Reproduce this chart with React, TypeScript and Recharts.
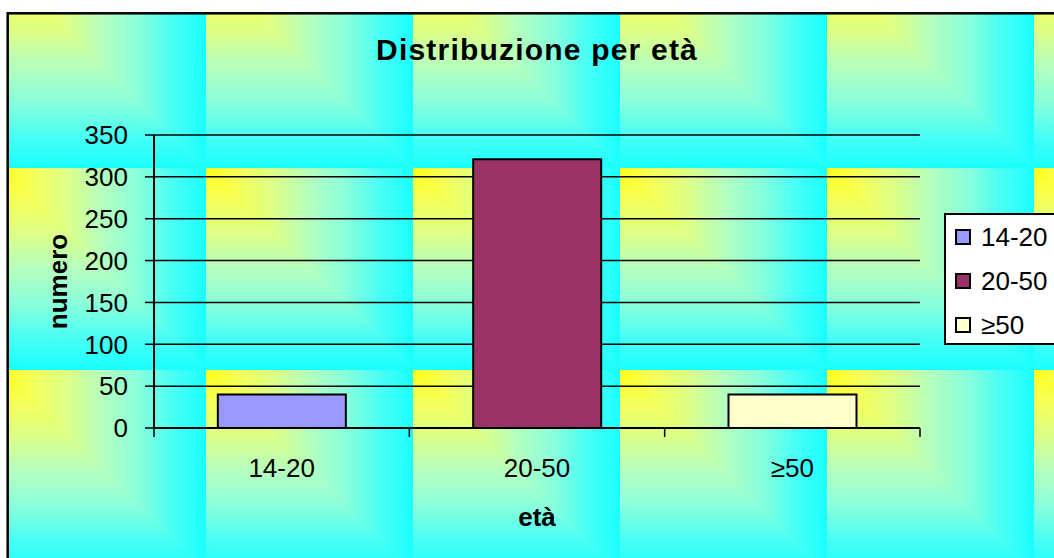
import React from 'react';
import { BarChart, Bar, Cell, XAxis, YAxis, CartesianGrid, Legend, Label } from 'recharts';

const categories = ['14-20', '20-50', '≥50'];
const counts = [40, 321, 40];
const barColors = ['#9999ff', '#993366', '#ffffcc'];
const yTicks = [0, 50, 100, 150, 200, 250, 300, 350];

const data = categories.map((name, i) => ({ name, value: counts[i] }));

const FONT = '"Liberation Sans", Arial, sans-serif';
const W = 1054;
const H = 558;
const margin = { top: 135, right: 134, bottom: 100, left: 94 };
const Y_WIDTH = 60;
const X_HEIGHT = 30;
const TICK = 9;
// width of one category band, used to put the x tick marks on the band edges
const BAND = (W - margin.left - Y_WIDTH - margin.right) / categories.length;

const gradStops = [
  [0, '#ffff1a'],
  [0.15, '#f6ff55'],
  [0.33, '#dcff88'],
  [0.5, '#b4ffbe'],
  [0.68, '#88ffdc'],
  [0.85, '#45fff5'],
  [1, '#1affff'],
];

function XTick(props: any) {
  const { x, y, payload, index } = props;
  const axisY = y - TICK;
  return (
    <g>
      <line x1={x - BAND / 2} x2={x - BAND / 2} y1={axisY} y2={axisY + TICK} stroke="#000" strokeWidth={1.5} />
      {index === categories.length - 1 && (
        <line x1={x + BAND / 2} x2={x + BAND / 2} y1={axisY} y2={axisY + TICK} stroke="#000" strokeWidth={1.5} />
      )}
      <text x={x} y={axisY + 49} textAnchor="middle" fontSize={26} fontFamily={FONT} fill="#000">
        {payload.value}
      </text>
    </g>
  );
}

function LegendBox() {
  return (
    <div
      style={{
        width: 130,
        height: 132,
        boxSizing: 'border-box',
        background: '#fff',
        border: '2px solid #000',
        fontFamily: FONT,
        fontSize: 26,
        color: '#000',
      }}
    >
      {categories.map((c, i) => (
        <div key={c} style={{ display: 'flex', alignItems: 'center', height: 44 }}>
          <span
            style={{
              display: 'inline-block',
              width: 16,
              height: 16,
              boxSizing: 'border-box',
              border: '2px solid #000',
              background: barColors[i],
              marginLeft: 9,
              marginRight: 10,
            }}
          />
          <span>{c}</span>
        </div>
      ))}
    </div>
  );
}

export default function App() {
  return (
    <div style={{ position: 'absolute', left: 0, top: 0, width: W, height: H, overflow: 'hidden', background: '#fff' }}>
      <svg width={W} height={H} style={{ position: 'absolute', left: 0, top: 0 }}>
        <defs>
          <linearGradient id="hg" x1="0" y1="0" x2="1" y2="0">
            {gradStops.map(([o, c]) => (
              <stop key={o} offset={o} stopColor={c as string} />
            ))}
          </linearGradient>
          <linearGradient id="vg" x1="0" y1="0" x2="0" y2="1">
            {gradStops.map(([o, c]) => (
              <stop key={o} offset={o} stopColor={c as string} />
            ))}
          </linearGradient>
          <pattern id="tile" x={-1} y={-34} width={207} height={202} patternUnits="userSpaceOnUse">
            <rect x={0} y={0} width={207} height={202} fill="url(#vg)" />
            <polygon points="0,0 207,0 207,202" fill="url(#hg)" />
          </pattern>
        </defs>
        <rect x={7.7} y={13.3} width={1100} height={600} fill="url(#tile)" stroke="#000" strokeWidth={2.5} />
        <text
          x={537}
          y={60}
          textAnchor="middle"
          fontSize={30}
          fontWeight="bold"
          letterSpacing={1.2}
          fontFamily={FONT}
          fill="#000"
        >
          Distribuzione per età
        </text>
      </svg>
      <div style={{ position: 'absolute', left: 0, top: 0 }}>
        <BarChart width={W} height={H} data={data} margin={margin} barCategoryGap="25%">
          <CartesianGrid vertical={false} stroke="#000" strokeWidth={1.5} />
          <XAxis
            dataKey="name"
            height={X_HEIGHT}
            tickSize={TICK}
            tickMargin={0}
            tickLine={false}
            axisLine={{ stroke: '#000', strokeWidth: 2 }}
            tick={<XTick />}
            interval={0}
          >
            <Label
              value="età"
              position="bottom"
              offset={49.5}
              style={{ fontFamily: FONT, fontSize: 26, fontWeight: 'bold', fill: '#000' }}
            />
          </XAxis>
          <YAxis
            domain={[0, 350]}
            ticks={yTicks}
            interval={0}
            width={Y_WIDTH}
            tickSize={TICK}
            tickMargin={17}
            axisLine={{ stroke: '#000', strokeWidth: 2 }}
            tickLine={{ stroke: '#000', strokeWidth: 1.5 }}
            tick={{ fill: '#000', fontSize: 26, fontFamily: FONT }}
          >
            <Label
              value="numero"
              angle={-90}
              position="insideLeft"
              offset={-36}
              style={{ fontFamily: FONT, fontSize: 26, fontWeight: 'bold', fill: '#000', textAnchor: 'middle' }}
            />
          </YAxis>
          <Legend
            layout="vertical"
            align="center"
            verticalAlign="middle"
            content={<LegendBox />}
            wrapperStyle={{ left: 944, top: 213, width: 130, height: 132 }}
          />
          <Bar dataKey="value" isAnimationActive={false} stroke="#000" strokeWidth={2}>
            {data.map((d, i) => (
              <Cell key={d.name} fill={barColors[i]} />
            ))}
          </Bar>
        </BarChart>
      </div>
    </div>
  );
}
